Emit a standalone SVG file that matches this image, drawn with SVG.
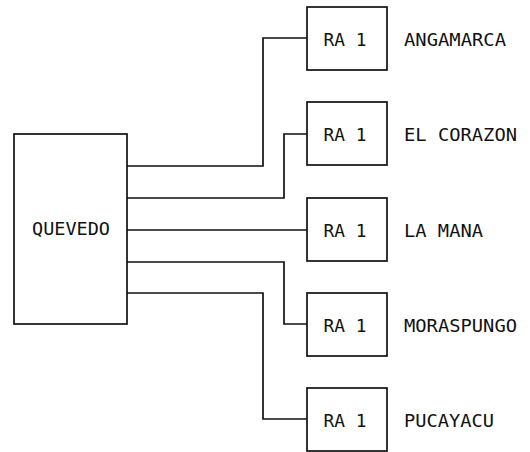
<svg xmlns="http://www.w3.org/2000/svg" width="530" height="452" viewBox="0 0 530 452">
<style>
.box{fill:none;stroke:#111;stroke-width:1.7}
.ln{fill:none;stroke:#111;stroke-width:1.7}
text{font-family:"DejaVu Sans Mono","Liberation Mono",monospace;font-size:17.5px;fill:#111}
.c{text-anchor:middle}
</style>
<rect width="530" height="452" fill="#fff"/>
<g id="connectors">
<polyline class="ln" points="127,166 263,166 263,38 307,38"/>
<polyline class="ln" points="127,198 284,198 284,134 307,134"/>
<polyline class="ln" points="127,230 307,230"/>
<polyline class="ln" points="127,262 284,262 284,324 307,324"/>
<polyline class="ln" points="127,293 263,293 263,419 307,419"/>
</g>
<g id="quevedo">
<rect class="box" x="14" y="134" width="113" height="190"/>
<text class="c" x="71" y="235" textLength="78" lengthAdjust="spacingAndGlyphs">QUEVEDO</text>
</g>
<g id="angamarca">
<rect class="box" x="307" y="7" width="80" height="63"/>
<text class="c" x="345" y="46" textLength="43" lengthAdjust="spacingAndGlyphs">RA 1</text>
<text x="404" y="46" textLength="102" lengthAdjust="spacingAndGlyphs">ANGAMARCA</text>
</g>
<g id="elcorazon">
<rect class="box" x="307" y="102" width="80" height="63"/>
<text class="c" x="345" y="141" textLength="43" lengthAdjust="spacingAndGlyphs">RA 1</text>
<text x="404" y="141" textLength="113" lengthAdjust="spacingAndGlyphs">EL CORAZON</text>
</g>
<g id="lamana">
<rect class="box" x="307" y="198" width="80" height="63"/>
<text class="c" x="345" y="237" textLength="43" lengthAdjust="spacingAndGlyphs">RA 1</text>
<text x="404" y="237" textLength="79" lengthAdjust="spacingAndGlyphs">LA MANA</text>
</g>
<g id="moraspungo">
<rect class="box" x="307" y="293" width="80" height="63"/>
<text class="c" x="345" y="332" textLength="43" lengthAdjust="spacingAndGlyphs">RA 1</text>
<text x="404" y="332" textLength="113" lengthAdjust="spacingAndGlyphs">MORASPUNGO</text>
</g>
<g id="pucayacu">
<rect class="box" x="307" y="388" width="80" height="63"/>
<text class="c" x="345" y="427" textLength="43" lengthAdjust="spacingAndGlyphs">RA 1</text>
<text x="404" y="427" textLength="90" lengthAdjust="spacingAndGlyphs">PUCAYACU</text>
</g>
</svg>
